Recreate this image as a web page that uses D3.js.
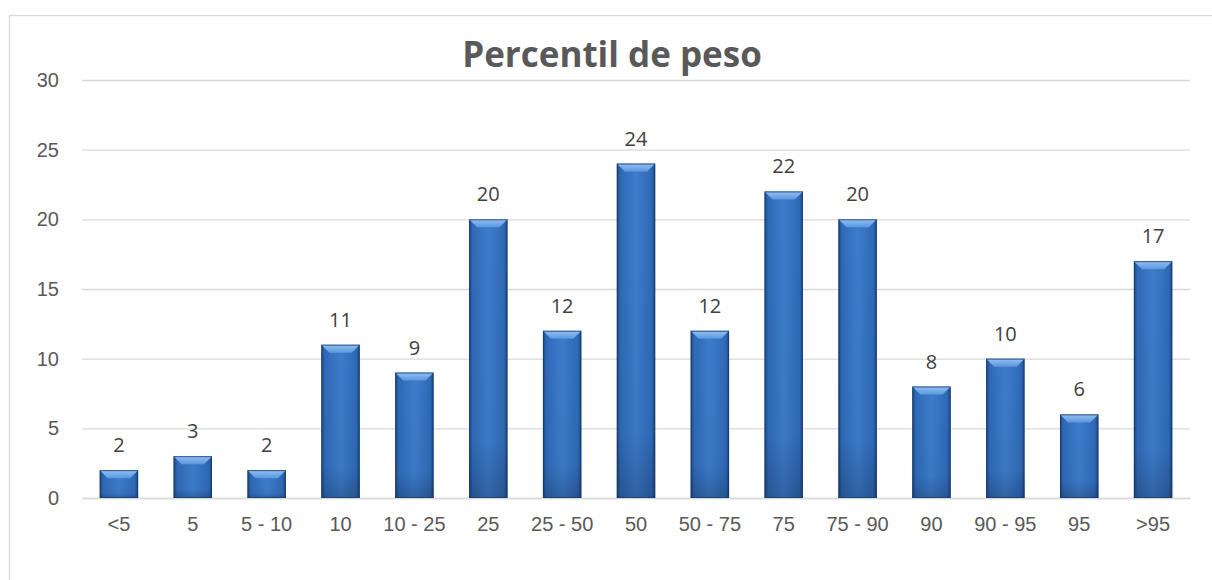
<!DOCTYPE html>
<html>
<head>
<meta charset="utf-8">
<script src="https://cdn.jsdelivr.net/npm/d3@7/dist/d3.min.js"></script>
<style>
  html, body { margin: 0; padding: 0; background: #fff; }
  svg { display: block; font-family: "Open Sans", "Noto Sans", sans-serif; }
</style>
</head>
<body>
<svg id="chart" width="1212" height="580"></svg>
<script>
const categories = ["<5", "5", "5 - 10", "10", "10 - 25", "25", "25 - 50", "50", "50 - 75", "75", "75 - 90", "90", "90 - 95", "95", ">95"];
const counts = [2, 3, 2, 11, 9, 20, 12, 24, 12, 22, 20, 8, 10, 6, 17];
const yTicks = [0, 5, 10, 15, 20, 25, 30];
const chartTitle = "Percentil de peso";

const svg = d3.select("#chart");
const margin = { left: 82, right: 1190, top: 80, bottom: 498 };

// chart area frame
svg.append("rect")
  .attr("x", 9.5).attr("y", 15.5)
  .attr("width", 1220).attr("height", 600)
  .attr("fill", "#fff").attr("stroke", "#d9d9d9").attr("stroke-width", 1.3);

const x = d3.scaleBand().domain(categories).range([margin.left, margin.right]).paddingInner(0.48).paddingOuter(0.24);
const y = d3.scaleLinear().domain([0, 30]).range([margin.bottom, margin.top]);

const defs = svg.append("defs");
const side = defs.append("linearGradient").attr("id", "barSide").attr("x1", 0).attr("x2", 1).attr("y1", 0).attr("y2", 0);
[[0, "#1b4580"], [0.09, "#2f69b6"], [0.5, "#3d7ccb"], [0.91, "#2f69b6"], [1, "#1b4580"]]
  .forEach(([o, c]) => side.append("stop").attr("offset", o).attr("stop-color", c));
const vert = defs.append("linearGradient").attr("id", "barShade").attr("x1", 0).attr("x2", 0).attr("y1", 0).attr("y2", 1);
[[0, "#000", 0], [0.8, "#000", 0.03], [1, "#000", 0.2]]
  .forEach(([o, c, a]) => vert.append("stop").attr("offset", o).attr("stop-color", c).attr("stop-opacity", a));
const bevel = defs.append("linearGradient").attr("id", "bevelTop").attr("x1", 0).attr("x2", 0).attr("y1", 0).attr("y2", 1);
[[0, "#93c0f2"], [1, "#5b97de"]]
  .forEach(([o, c]) => bevel.append("stop").attr("offset", o).attr("stop-color", c));

// horizontal gridlines
const yAxis = d3.axisLeft(y).tickValues(yTicks).tickSize(-(margin.right - margin.left)).tickPadding(23);
const gy = svg.append("g").attr("transform", `translate(${margin.left},0)`).call(yAxis);
gy.select(".domain").remove();
gy.selectAll(".tick line").attr("stroke", "#d9d9d9").attr("stroke-width", 1.3);
gy.selectAll(".tick text").attr("fill", "#595959").attr("font-size", 20);

// category axis
const xAxis = d3.axisBottom(x).tickSize(0).tickPadding(19);
const gx = svg.append("g").attr("transform", `translate(0,${margin.bottom})`).call(xAxis);
gx.select(".domain").attr("stroke", "#d9d9d9").attr("stroke-width", 1.3);
gx.selectAll(".tick text").attr("fill", "#595959").attr("font-size", 20);

// bars with bevelled tops
const bars = svg.append("g").selectAll("g").data(categories.map((c, i) => ({ c, v: counts[i] }))).join("g");
bars.append("rect")
  .attr("x", d => x(d.c)).attr("y", d => y(d.v))
  .attr("width", x.bandwidth()).attr("height", d => y(0) - y(d.v))
  .attr("fill", "url(#barSide)");
bars.append("rect")
  .attr("x", d => x(d.c)).attr("y", d => y(d.v))
  .attr("width", x.bandwidth()).attr("height", d => y(0) - y(d.v))
  .attr("fill", "url(#barShade)");
bars.append("path")
  .attr("d", d => {
    const x0 = x(d.c), x1 = x0 + x.bandwidth(), t = y(d.v), b = 8;
    return `M${x0},${t}L${x1},${t}L${x1 - b},${t + b}L${x0 + b},${t + b}Z`;
  })
  .attr("fill", "url(#bevelTop)");
bars.append("rect")
  .attr("x", d => x(d.c) + 0.5).attr("y", d => y(d.v) + 0.5)
  .attr("width", x.bandwidth() - 1).attr("height", d => y(0) - y(d.v) - 1)
  .attr("fill", "none").attr("stroke", "#163a6c").attr("stroke-width", 1).attr("stroke-opacity", 0.75);

// value labels
bars.append("text")
  .attr("x", d => x(d.c) + x.bandwidth() / 2)
  .attr("y", d => y(d.v) - 18)
  .attr("text-anchor", "middle")
  .attr("fill", "#404040").attr("font-size", 20)
  .text(d => d.v);

// title
svg.append("text")
  .attr("x", 612).attr("y", 67)
  .attr("text-anchor", "middle")
  .attr("fill", "#595959").attr("font-size", 35).attr("font-weight", "bold")
  .text(chartTitle);
</script>
</body>
</html>
